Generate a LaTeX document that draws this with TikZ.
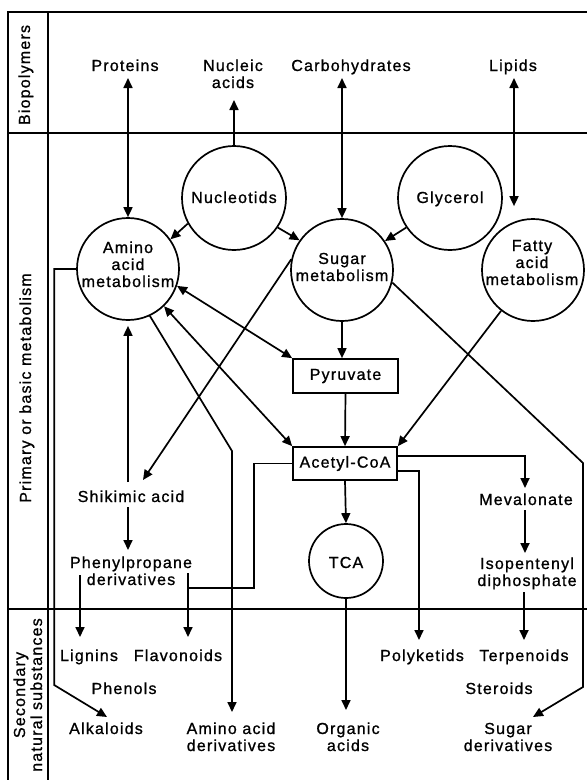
\documentclass[tikz,border=0pt]{standalone}
\usepackage{fontspec}
\setmainfont{Liberation Sans}[LetterSpace=7.5,FakeBold=1]
\usetikzlibrary{arrows.meta,calc}
\begin{document}
\begin{tikzpicture}[x=1pt,y=-1pt,line width=1.7pt,
  every node/.style={font=\fontsize{16}{17}\selectfont},
  txt/.style={anchor=base,inner sep=0pt,align=center},
  blob/.style={draw,circle,inner sep=0pt},
  box/.style={draw,rectangle,inner sep=0pt},
  arr/.style={-{Triangle[length=10pt,width=9pt]}},
  darr/.style={{Triangle[length=10pt,width=9pt]}-{Triangle[length=10pt,width=9pt]}}]
\useasboundingbox (0,0) rectangle (587,780);
% frame
\draw (8,780) -- (8,12) -- (587,12);
\draw (48,12) -- (48,780);
\draw (8,133) -- (587,133);
\draw (8,609) -- (587,609);
\node[txt,rotate=90] (lbio) at (30,75) {Biopolymers};
\node[txt,rotate=90] (lprim) at (31,388) {Primary or basic metabolism};
\node[txt,rotate=90] (lsec) at (42,695) {Secondary\\natural substances};
% circles and boxes
\node[blob,minimum size=104pt] (nuc) at (234,198) {};
\node[blob,minimum size=104pt] (gly) at (450,198) {};
\node[blob,minimum size=102pt] (amino) at (128,269) {};
\node[blob,minimum size=102pt] (sugar) at (342,270) {};
\node[blob,minimum size=102pt] (fatty) at (533,270) {};
\node[blob,minimum size=74pt] (tca) at (346,561) {};
\node[box,minimum width=105pt,minimum height=34pt] (pyr) at (345.5,376) {Pyruvate};
\node[box,minimum width=104pt,minimum height=33pt] (acetyl) at (345,463.5) {Acetyl-CoA};
% texts (base = baseline of last line)
\node[txt] (prot) at (125,71) {Proteins};
\node[txt] (nucac) at (233,88) {Nucleic\\acids};
\node[txt] (carb) at (351,71) {Carbohydrates};
\node[txt] (lip) at (513,71) {Lipids};
\node[txt] (nucT) at (234,203) {Nucleotids};
\node[txt] (glyT) at (450,203) {Glycerol};
\node[txt] (aminoT) at (128,287) {Amino\\acid\\metabolism};
\node[txt] (sugarT) at (342,281) {Sugar\\metabolism};
\node[txt] (fattyT) at (532,285) {Fatty\\acid\\metabolism};
\node[txt] (tcaT) at (346,568) {TCA};
\node[txt] (shik) at (131,502) {Shikimic acid};
\node[txt] (phen) at (131,585) {Phenylpropane\\derivatives};
\node[txt] (mev) at (526,505) {Mevalonate};
\node[txt] (iso) at (527,586) {Isopentenyl\\diphosphate};
\node[txt] (lign) at (89,661) {Lignins};
\node[txt] (flav) at (178,661) {Flavonoids};
\node[txt] (phenol) at (124,694) {Phenols};
\node[txt] (alk) at (106,734) {Alkaloids};
\node[txt] (aad) at (231,751) {Amino acid\\derivatives};
\node[txt] (org) at (348,751) {Organic\\acids};
\node[txt] (poly) at (422,661) {Polyketids};
\node[txt] (terp) at (524,661) {Terpenoids};
\node[txt] (ster) at (499,694) {Steroids};
\node[txt] (sugd) at (508,751) {Sugar\\derivatives};
% connectors
\draw[darr] ($(prot.base)+(3,7)$) -- (amino.north);
\draw[arr] (nuc.north) -- ($(nucac.base)+(1,12)$);
\draw[darr] ($(carb.base)+(-9,7)$) -- (sugar.north);
\draw[darr] ($(lip.base)+(1,7)$) -- ($(fatty.north)+(-19,-12)$);
\draw[arr] (nuc.209) -- (amino.35);
\draw[arr] (nuc.326) -- (sugar.145);
\draw[arr] (gly.214) -- (sugar.34);
\draw[arr] (sugar.south) -- (sugar.south |- pyr.north);
\draw[arr] (pyr.south) -- (acetyl.north);
\draw[arr] (fatty.232) -- (acetyl.north east);
\draw[darr] (amino.-19) -- (pyr.north west);
\draw[darr] (amino.-46) -- (acetyl.north west);
\draw[arr] (sugar.168) -- ($(shik.base)+(12,-22)$);
\draw[arr,shorten >=5pt] ($(shik.base)+(-3,-20)$) -- (amino.south);
\draw[arr] ($(shik.base)+(-3,5)$) -- ($(phen.base)+(-3,-35)$);
\draw[arr] ($(phen.base)+(-51,-10)$) -- ($(lign.base)+(-9,-24)$);
\draw[arr] ($(phen.base)+(57,-12)$) -- ($(flav.base)+(10,-24)$);
\coordinate (fj) at ($(flav.base)+(10,-73)$);
\draw (acetyl.west) -- ++(-38,0) |- (fj);
\coordinate (aadbend) at ($(aad.base)+(1,-300)$);
\draw[arr] (amino.-65) -- (aadbend) -- ($(aad.base)+(1,-39)$);
\draw[arr] (acetyl.south) -- (tca.north);
\draw[arr] (tca.south) -- ($(org.base)+(-2,-41)$);
\draw[arr] ([yshift=-7.5pt]acetyl.east) -| ($(poly.base)+(-3,-21)$);
\draw[arr] ([yshift=7.5pt]acetyl.east) -| ($(mev.base)+(-1,-17)$);
\draw[arr] ($(mev.base)+(-1,5)$) -- ($(iso.base)+(-2,-33)$);
\draw[arr] ($(iso.base)+(-3,6)$) -- ($(terp.base)+(0,-21)$);
\coordinate (sd1) at ($(sugd.base)+(75,-288)$);
\coordinate (sd2) at ($(sugd.base)+(75,-64)$);
\draw[arr] (sugar.-14) -- (sd1) -- (sd2) -- ($(sugd.base)+(25,-34)$);
\draw[arr] (amino.west) -- ++(-22,0) -- ++(0,416) -- ($(alk.base)+(1,-17)$);
\end{tikzpicture}
\end{document}
